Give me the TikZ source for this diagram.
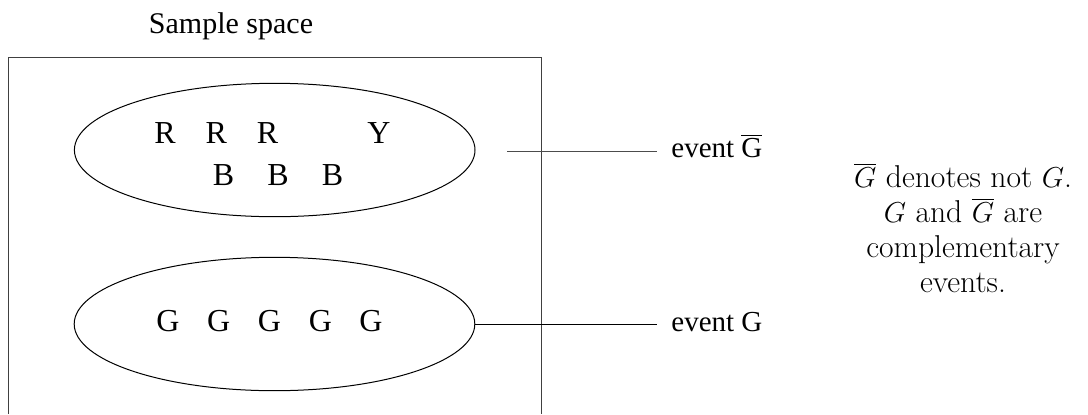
\documentclass[tikz,border=0pt]{standalone}
\usepackage{fontspec}
\newfontfamily\tms{Liberation Serif}
\usetikzlibrary{shapes.geometric}
\begin{document}
\begin{tikzpicture}[x=0.5pt,y=-0.5pt,
  evset/.style={ellipse,draw=black,line width=0.5pt,minimum width=200.3pt,minimum height=66.7pt,inner sep=0pt},
  ltr/.style={font=\tms\fontsize{16}{19}\selectfont,anchor=base,inner sep=0pt},
  lab/.style={font=\tms\fontsize{14.5}{17}\selectfont,anchor=base west,inner xsep=7pt,inner ysep=0pt},
  conn/.style={line width=0.5pt},
  frame/.style={draw=black!75,line width=0.55pt},
  ]
\useasboundingbox (0,0) rectangle (1088,414);
% sample space frame (open at the bottom)
\node[font=\tms\fontsize{15}{18}\selectfont,anchor=base,inner sep=0pt] (title) at (231,33) {Sample space};
\coordinate (bl) at (8.6,414);
\coordinate (tl) at (8.6,57.7);
\coordinate (tr) at (541.7,57.7);
\coordinate (br) at (541.7,414);
\draw[frame] (bl) -- (tl) -- (tr) -- (br);
% events
\node[evset] (notG) at (274.7,150) {};
\node[evset] (G) at (274.5,324) {};
% letters in not-G
\node[ltr] (r1) at (165,143) {R};
\node[ltr] (r2) at (216.4,143) {R};
\node[ltr] (r3) at (267.6,143) {R};
\node[ltr] (y1) at (379,143) {Y};
\node[ltr] (b1) at (223.5,185) {B};
\node[ltr] (b2) at (278,185) {B};
\node[ltr] (b3) at (332.5,185) {B};
% letters in G
\node[ltr] (g1) at (168,331.7) {G};
\node[ltr] (g2) at (218.7,331.7) {G};
\node[ltr] (g3) at (269.5,331.7) {G};
\node[ltr] (g4) at (320.5,331.7) {G};
\node[ltr] (g5) at (371,331.7) {G};
% labels
\node[lab] (evnotG) at (657,157) {event $\overline{\mbox{G}}$};
\node[lab] (evG) at (657,331) {event G};
\coordinate (ls) at (507,151);
\draw[conn,draw=black!70] (ls) -- (ls -| evnotG.west);
\draw[conn] (G.east) -- (G.east -| evG.west);
% note
\node[anchor=north,align=center,inner sep=0pt,font=\fontsize{15.8}{17.5}\selectfont] (note) at (963,163)
  {$\overline{G}$ denotes not $G$.\\ $G$ and $\overline{G}$ are\\ complementary\\ events.};
\end{tikzpicture}
\end{document}
